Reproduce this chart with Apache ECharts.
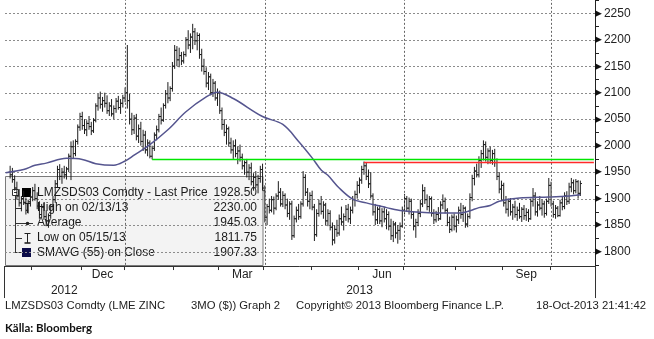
<!DOCTYPE html>
<html>
<head>
<meta charset="utf-8">
<script src="https://cdn.jsdelivr.net/npm/echarts@6/dist/echarts.min.js"></script>
<style>
  html, body { margin: 0; padding: 0; background: #fff; }
  #chart { width: 654px; height: 339px; }
</style>
</head>
<body>
<div id="chart"></div>
<script>
// LME zinc 3-month price, daily OHLC bars, 18-Oct-2012 .. 18-Oct-2013
const firstDay = '2012-10-18';
const holidays = ['2012-12-25', '2012-12-26', '2013-01-01', '2013-03-29', '2013-04-01', '2013-05-06', '2013-05-27', '2013-08-26'];
const monthLabels = { '2012-12': 'Dec', '2013-03': 'Mar', '2013-06': 'Jun', '2013-09': 'Sep' };
const yearLabels = ['2012', '2013'];
const priceTicks = [1800, 1850, 1900, 1950, 2000, 2050, 2100, 2150, 2200, 2250];

const opens = [
  1950,1945,1936,1920,1905,1892,1900,1893,1878,1894,
  1903,1915,1900,1886,1870,1884,1866,1858,1868,1885,
  1898,1928,1955,1942,1950,1945,1956,1980,1998,1985,
  2008,2035,2055,2038,2030,2042,2036,2028,2048,2075,
  2090,2078,2085,2080,2066,2075,2060,2070,2084,2072,
  2080,2090,2100,2085,2050,2030,2052,2018,2032,2008,
  2020,1992,2005,1980,1995,2020,2030,2055,2048,2076,
  2098,2090,2108,2150,2180,2162,2170,2160,2172,2200,
  2190,2205,2215,2198,2208,2172,2150,2140,2118,2130,
  2100,2118,2090,2100,2066,2040,2025,2032,2005,1992,
  2000,1985,1990,1978,1962,1968,1950,1958,1932,1940,
  1926,1938,1955,1915,1865,1885,1878,1898,1882,1905,
  1912,1890,1906,1888,1872,1890,1830,1862,1878,1866,
  1890,1940,1912,1895,1906,1884,1832,1872,1890,1876,
  1888,1858,1872,1846,1822,1842,1835,1862,1856,1866,
  1880,1862,1878,1898,1908,1925,1935,1955,1962,1942,
  1928,1905,1875,1860,1880,1858,1875,1862,1870,1848,
  1830,1852,1835,1840,1848,1878,1900,1882,1895,1870,
  1848,1855,1872,1890,1915,1898,1885,1900,1872,1860,
  1870,1862,1888,1895,1878,1855,1842,1865,1848,1860,
  1878,1870,1882,1852,1866,1902,1938,1952,1945,1972,
  1985,2002,1978,1990,1972,1985,1968,1942,1918,1925,
  1892,1880,1895,1875,1884,1870,1878,1866,1880,1868,
  1874,1862,1895,1905,1875,1888,1882,1890,1872,1895,
  1925,1890,1870,1882,1868,1892,1885,1905,1895,1922,
  1930,1915,1932,1910
];
const highs = [
  1962,1958,1944,1932,1918,1905,1915,1902,1898,1910,
  1922,1928,1912,1895,1890,1892,1878,1872,1890,1905,
  1935,1962,1965,1958,1962,1960,1985,2008,2010,2012,
  2040,2062,2064,2050,2048,2056,2045,2052,2080,2098,
  2102,2092,2100,2095,2082,2088,2076,2090,2094,2088,
  2096,2110,2190,2098,2062,2058,2060,2040,2045,2030,
  2028,2012,2010,2000,2025,2038,2060,2072,2080,2105,
  2120,2112,2158,2190,2188,2185,2177,2178,2205,2218,
  2212,2230,2222,2214,2212,2183,2164,2148,2139,2136,
  2126,2122,2108,2104,2072,2050,2040,2036,2015,2010,
  2012,1998,2002,1985,1972,1975,1965,1968,1948,1952,
  1945,1962,1966,1925,1890,1900,1905,1904,1910,1933,
  1920,1914,1910,1900,1895,1896,1868,1885,1890,1895,
  1952,1946,1920,1912,1915,1890,1880,1898,1905,1895,
  1892,1880,1878,1855,1850,1860,1870,1885,1872,1888,
  1890,1885,1905,1915,1933,1940,1962,1970,1968,1955,
  1950,1910,1890,1885,1888,1882,1884,1880,1876,1862,
  1858,1856,1850,1855,1885,1909,1905,1902,1900,1876,
  1862,1880,1898,1927,1922,1908,1905,1904,1880,1877,
  1884,1895,1908,1902,1882,1866,1870,1872,1868,1885,
  1892,1888,1885,1872,1910,1945,1960,1966,1980,1992,
  2010,2008,1995,1998,1992,1994,1976,1950,1934,1930,
  1905,1900,1901,1890,1896,1885,1892,1884,1888,1882,
  1880,1900,1920,1912,1895,1905,1898,1896,1900,1939,
  1932,1896,1888,1886,1898,1905,1912,1914,1930,1939,
  1936,1937,1935,1934
];
const lows = [
  1938,1930,1915,1898,1885,1876,1888,1870,1872,1885,
  1895,1896,1880,1862,1864,1860,1848,1845,1862,1878,
  1892,1920,1935,1928,1938,1936,1950,1935,1975,1980,
  2002,2028,2030,2022,2018,2030,2020,2024,2044,2066,
  2070,2064,2072,2060,2056,2055,2050,2062,2068,2060,
  2072,2082,2070,2040,2020,2022,2010,2005,2000,1990,
  1985,1980,1976,1974,1990,2010,2025,2040,2045,2070,
  2080,2084,2102,2145,2150,2148,2152,2155,2168,2182,
  2175,2182,2190,2180,2164,2140,2134,2110,2105,2095,
  2092,2085,2075,2060,2030,2018,2002,1998,1985,1975,
  1978,1965,1970,1955,1945,1940,1935,1925,1915,1920,
  1910,1930,1915,1855,1850,1872,1874,1870,1878,1898,
  1885,1884,1880,1865,1860,1822,1826,1855,1860,1862,
  1885,1905,1885,1880,1878,1820,1828,1866,1870,1862,
  1850,1848,1840,1811.75,1815,1828,1830,1850,1840,1858,
  1855,1852,1872,1885,1900,1910,1928,1945,1935,1920,
  1900,1868,1850,1852,1852,1846,1855,1842,1840,1822,
  1818,1825,1815,1822,1845,1870,1875,1870,1862,1840,
  1826,1848,1865,1884,1890,1878,1875,1866,1852,1855,
  1858,1860,1880,1872,1848,1835,1838,1840,1836,1852,
  1862,1856,1845,1846,1862,1895,1925,1940,1940,1958,
  1972,1970,1965,1966,1964,1960,1935,1910,1898,1885,
  1872,1866,1868,1860,1864,1858,1862,1856,1860,1858,
  1856,1860,1885,1868,1866,1878,1868,1864,1868,1890,
  1885,1864,1862,1865,1866,1878,1880,1888,1890,1912,
  1908,1910,1900,1905
];
const closes = [
  1945,1936,1920,1905,1892,1900,1893,1878,1894,1903,
  1915,1900,1886,1870,1884,1866,1858,1868,1885,1898,
  1928,1955,1942,1950,1945,1956,1980,1998,1985,2008,
  2035,2055,2038,2030,2042,2036,2028,2048,2075,2090,
  2078,2085,2080,2066,2075,2060,2070,2084,2072,2080,
  2090,2100,2085,2050,2030,2052,2018,2032,2008,2020,
  1992,2005,1980,1995,2020,2030,2055,2048,2076,2098,
  2090,2108,2150,2180,2162,2170,2160,2172,2200,2190,
  2205,2215,2198,2208,2172,2150,2140,2118,2130,2100,
  2118,2090,2100,2066,2040,2025,2032,2005,1992,2000,
  1985,1990,1978,1962,1968,1950,1958,1932,1940,1926,
  1938,1955,1920,1865,1885,1878,1898,1882,1905,1912,
  1890,1906,1888,1872,1890,1830,1862,1878,1866,1890,
  1940,1912,1895,1906,1884,1832,1872,1890,1876,1888,
  1858,1872,1846,1822,1842,1835,1862,1856,1866,1880,
  1862,1878,1898,1908,1925,1935,1955,1962,1942,1928,
  1905,1875,1860,1880,1858,1875,1862,1870,1848,1830,
  1852,1835,1840,1848,1878,1900,1882,1895,1870,1848,
  1855,1872,1890,1915,1898,1885,1900,1872,1860,1870,
  1862,1888,1895,1878,1855,1842,1865,1848,1860,1878,
  1870,1882,1852,1866,1902,1938,1952,1945,1972,1985,
  2002,1978,1990,1972,1985,1968,1942,1918,1925,1892,
  1880,1895,1875,1884,1870,1878,1866,1880,1868,1874,
  1862,1895,1905,1875,1888,1882,1890,1872,1895,1925,
  1890,1870,1882,1868,1892,1885,1905,1895,1922,1930,
  1915,1932,1910,1928.5
];

// 55-day simple moving average of the close (trading-day offset from firstDay, value)
const smaDay   = [-2, 6, 11, 16, 25, 32, 38, 46, 51, 55, 62, 70, 78, 87, 92, 99, 112, 121, 128, 134, 138, 141, 146, 152, 158, 164, 167, 174, 189, 200, 204, 208, 213, 217, 226, 239, 248, 253];
const smaValue = [1949, 1955, 1963, 1967, 1976, 1974, 1966, 1963, 1971, 1982, 2002, 2030, 2064, 2092, 2101, 2089, 2055, 2040, 2008, 1977, 1954, 1944, 1920, 1899, 1892, 1886, 1883, 1877, 1873, 1873, 1877, 1883, 1887, 1895, 1901, 1903, 1905, 1907.33];

// horizontal trend lines drawn to the right edge (start day offset, level)
const trendStartDay = [157, 63];
const trendLevel = [1969.5, 1973.5];

const averagePrice = 1945.03;

// ---------- trading calendar ----------
const cats = [];
for (let t = Date.UTC(2012, 9, 16); t <= Date.UTC(2013, 9, 28); t += 864e5) {
  const d = new Date(t);
  const wd = d.getUTCDay();
  const s = d.toISOString().slice(0, 10);
  if (wd === 0 || wd === 6 || holidays.indexOf(s) >= 0) continue;
  cats.push(s);
}
const off = cats.indexOf(firstDay);
const firstCat = cats[0];
const lastCat = cats[cats.length - 1];

const isMonthStart = k => k > 0 && cats[k].slice(0, 7) !== cats[k - 1].slice(0, 7);
const isQuarterStart = k => isMonthStart(k) && ['01', '04', '07', '10'].indexOf(cats[k].slice(5, 7)) >= 0;
const isYearStart = k => k > 0 && cats[k].slice(0, 4) !== cats[k - 1].slice(0, 4);

const monthAt = {};
const yearAt = {};
(function () {
  const mg = {}, yg = {};
  cats.forEach((s, k) => {
    (mg[s.slice(0, 7)] = mg[s.slice(0, 7)] || []).push(k);
    (yg[s.slice(0, 4)] = yg[s.slice(0, 4)] || []).push(k);
  });
  Object.keys(monthLabels).forEach(key => {
    const g = mg[key];
    monthAt[g[Math.round((g.length - 1) / 2)]] = monthLabels[key];
  });
  yearLabels.forEach(y => {
    const g = yg[y];
    yearAt[g[Math.round((g.length - 1) / 2)]] = y;
  });
})();

const ohlcData = closes.map((c, i) => [cats[off + i], opens[i], highs[i], lows[i], c]);
const smaData = smaDay.map((d, i) => [cats[off + d], smaValue[i]]);

// ---------- legend statistics ----------
let hiIdx = 0, loIdx = 0;
highs.forEach((v, i) => { if (v > highs[hiIdx]) hiIdx = i; });
lows.forEach((v, i) => { if (v < lows[loIdx]) loIdx = i; });
const usDate = s => s.slice(5, 7) + '/' + s.slice(8, 10) + '/' + s.slice(2, 4);
const lastClose = closes[closes.length - 1];
const lastSma = smaValue[smaValue.length - 1];
const legendRows = [
  ['LMZSDS03 Comdty - Last Price', lastClose.toFixed(2)],
  ['High on ' + usDate(cats[off + hiIdx]), highs[hiIdx].toFixed(2)],
  ['Average', averagePrice.toFixed(2)],
  ['Low on ' + usDate(cats[off + loIdx]), lows[loIdx].toFixed(2)],
  ['SMAVG (55) on Close', lastSma.toFixed(2)]
];

// ---------- drawing ----------
const FONT = '"Liberation Sans", Arial, sans-serif';
const GRID_LINE = { color: '#666666', width: 1, type: [2, 2] };

function renderBar(params, api) {
  const k = api.value(0);
  const pH = api.coord([k, api.value(2)]);
  const pL = api.coord([k, api.value(3)]);
  const pO = api.coord([k, api.value(1)]);
  const pC = api.coord([k, api.value(4)]);
  const x = pH[0];
  const st = { stroke: '#1c1c1c', lineWidth: 1 };
  return {
    type: 'group',
    children: [
      { type: 'line', shape: { x1: x, y1: pH[1], x2: x, y2: pL[1] }, style: st },
      { type: 'line', shape: { x1: x - 1.6, y1: pO[1], x2: x, y2: pO[1] }, style: st },
      { type: 'line', shape: { x1: x, y1: pC[1], x2: x + 1.6, y2: pC[1] }, style: st }
    ]
  };
}

// dotted quarter boundaries
const quarterMarks = cats.map((s, k) => k).filter(isQuarterStart).map(k => ({ xAxis: cats[k], lineStyle: GRID_LINE }));

const rowY = [193, 208, 223, 238, 252.5];
const legendGraphics = [
  { type: 'rect', shape: { x: 5.5, y: 176.5, width: 257.5, height: 89 },
    style: { fill: 'rgba(241,241,241,0.84)', stroke: '#7a7a7a', lineWidth: 1 } },
  // tree connector
  { type: 'rect', shape: { x: 12.5, y: 189.5, width: 6, height: 6 }, style: { fill: '#fff', stroke: '#333', lineWidth: 1 } },
  { type: 'line', shape: { x1: 14, y1: 192.5, x2: 17, y2: 192.5 }, style: { stroke: '#333', lineWidth: 1 } },
  { type: 'line', shape: { x1: 15.5, y1: 195.5, x2: 15.5, y2: 253 }, style: { stroke: '#333', lineWidth: 1 } },
  { type: 'line', shape: { x1: 15.5, y1: 208.5, x2: 22, y2: 208.5 }, style: { stroke: '#333', lineWidth: 1 } },
  { type: 'line', shape: { x1: 15.5, y1: 223.5, x2: 22, y2: 223.5 }, style: { stroke: '#333', lineWidth: 1 } },
  { type: 'line', shape: { x1: 15.5, y1: 238.5, x2: 22, y2: 238.5 }, style: { stroke: '#333', lineWidth: 1 } },
  { type: 'line', shape: { x1: 15.5, y1: 252.5, x2: 22, y2: 252.5 }, style: { stroke: '#333', lineWidth: 1 } },
  // series swatches
  { type: 'rect', shape: { x: 22, y: 188, width: 9, height: 9 }, style: { fill: '#000' } },
  { type: 'line', shape: { x1: 27.5, y1: 203, x2: 27.5, y2: 213 }, style: { stroke: '#222', lineWidth: 1 } },
  { type: 'line', shape: { x1: 24.5, y1: 203.5, x2: 30.5, y2: 203.5 }, style: { stroke: '#222', lineWidth: 1 } },
  { type: 'line', shape: { x1: 21, y1: 223.5, x2: 33, y2: 223.5 }, style: { stroke: '#333', lineWidth: 1 } },
  { type: 'circle', shape: { cx: 27.5, cy: 223.5, r: 1.8 }, style: { fill: '#222' } },
  { type: 'line', shape: { x1: 27.5, y1: 233, x2: 27.5, y2: 243 }, style: { stroke: '#222', lineWidth: 1 } },
  { type: 'line', shape: { x1: 24.5, y1: 233.5, x2: 30.5, y2: 233.5 }, style: { stroke: '#222', lineWidth: 1 } },
  { type: 'line', shape: { x1: 24.5, y1: 243, x2: 30.5, y2: 243 }, style: { stroke: '#222', lineWidth: 1.6 } },
  { type: 'rect', shape: { x: 22, y: 248, width: 9, height: 9 }, style: { fill: '#0b0b48' } }
];
legendRows.forEach((r, i) => {
  legendGraphics.push({ type: 'text', style: { text: r[0], x: 37, y: rowY[i], fill: '#1a1a1a', font: '12px ' + FONT, align: 'left', verticalAlign: 'middle' } });
  legendGraphics.push({ type: 'text', style: { text: r[1], x: 257, y: rowY[i], fill: '#1a1a1a', font: '12px ' + FONT, align: 'right', verticalAlign: 'middle' } });
});

const footFont = '11.3px ' + FONT;
const footer = [
  { type: 'text', style: { text: 'LMZSDS03 Comdty (LME ZINC', x: 5, y: 306, fill: '#222', font: footFont, verticalAlign: 'middle' } },
  { type: 'text', style: { text: '3MO ($)) Graph 2', x: 191, y: 306, fill: '#222', font: footFont, verticalAlign: 'middle' } },
  { type: 'text', style: { text: 'Copyright\u00a9 2013 Bloomberg Finance L.P.', x: 296, y: 306, fill: '#222', font: footFont, verticalAlign: 'middle' } },
  { type: 'text', style: { text: '18-Oct-2013 21:41:42', x: 646, y: 306, fill: '#222', font: footFont, align: 'right', verticalAlign: 'middle' } },
  { type: 'text', style: { text: 'K\u00e4lla: Bloomberg', x: 5, y: 328, fill: '#111', font: 'bold 11.5px Lato, sans-serif', verticalAlign: 'middle' } }
];

const tagLabel = (bg) => ({
  show: true,
  position: 'end',
  distance: 1,
  offset: [0, 2.5],
  formatter: p => '{a|\u25C0}{b|' + Number(p.value).toFixed(2) + '}',
  rich: {
    a: { color: bg, fontSize: 9, fontFamily: 'DejaVu Sans', padding: [0, -1, 0, 0] },
    b: { color: '#fff', backgroundColor: bg, fontSize: 12, fontFamily: FONT, padding: [2, 3, 1, 3], borderRadius: 2 }
  }
});

const chart = echarts.init(document.getElementById('chart'), null, { renderer: 'canvas' });
chart.setOption({
  animation: false,
  backgroundColor: '#fff',
  grid: { left: 4.5, top: -1.83, width: 590.5, height: 266.67 },
  xAxis: [
    {
      type: 'category', data: cats, boundaryGap: true, offset: 1.2,
      axisLine: { show: true, lineStyle: { color: '#333', width: 1 } },
      axisTick: { show: true, length: 4, interval: k => isMonthStart(k), lineStyle: { color: '#333' } },
      axisLabel: { show: true, interval: k => monthAt[k] !== undefined, formatter: (v, k) => monthAt[k] || '',
                   margin: 3, color: '#222', fontFamily: FONT, fontSize: 12 },
      splitLine: { show: false }
    },
    {
      type: 'category', data: cats, boundaryGap: true, offset: 1.2, position: 'bottom',
      axisLine: { show: false },
      axisTick: { show: true, length: 32, interval: k => isYearStart(k), lineStyle: { color: '#333' } },
      axisLabel: { show: true, interval: k => yearAt[k] !== undefined, formatter: (v, k) => yearAt[k] || '',
                   margin: 19, color: '#222', fontFamily: FONT, fontSize: 12 },
      splitLine: { show: false }
    }
  ],
  yAxis: {
    type: 'value', position: 'right', min: 1775, max: 2275, interval: 25,
    axisLine: { show: true, lineStyle: { color: '#222', width: 1 } },
    axisTick: { show: true, length: 4, lineStyle: { color: '#222' } },
    splitLine: { show: false },
    axisLabel: {
      margin: 0,
      formatter: v => priceTicks.indexOf(v) >= 0 ? '{t|\u25B6}{n|' + v + '}' : '',
      rich: {
        t: { color: '#111', fontSize: 9, fontFamily: 'DejaVu Sans', padding: [0, 2, 0, 0] },
        n: { color: '#222', fontSize: 12, fontFamily: FONT }
      }
    }
  },
  series: [
    {
      type: 'line', name: 'quarters', data: smaData, showSymbol: false, silent: true, z: 1,
      lineStyle: { opacity: 0 },
      markLine: { silent: true, symbol: ['none', 'none'], label: { show: false }, animation: false, data: quarterMarks }
    },
    {
      type: 'custom', name: 'LMZSDS03 Comdty', xAxisIndex: 0, yAxisIndex: 0,
      data: ohlcData, encode: { x: 0, y: [1, 2, 3, 4] },
      renderItem: renderBar, z: 3, silent: true
    },
    {
      type: 'line', name: 'SMAVG (55)', data: smaData, showSymbol: false, smooth: 0.35,
      lineStyle: { color: '#55558f', width: 1.5 }, z: 4, silent: true,
      markLine: {
        silent: true, symbol: ['none', 'none'], animation: false,
        label: { show: false },
        data: [
          [{ coord: [cats[off + trendStartDay[0]], trendLevel[0]], lineStyle: { color: '#ff2a2a', width: 1.3, type: 'solid' } },
           { coord: [lastCat, trendLevel[0]] }],
          [{ coord: [cats[off + trendStartDay[1]], trendLevel[1]], lineStyle: { color: '#00e600', width: 1.3, type: 'solid' } },
           { coord: [lastCat, trendLevel[1]] }],
          { yAxis: lastSma, lineStyle: { opacity: 0 }, label: tagLabel('#0b0b48') },
          { yAxis: lastClose, lineStyle: { opacity: 0 }, label: tagLabel('#000000') }
        ]
      }
    }
  ],
  graphic: [
    { type: 'group', z: 100, children: legendGraphics },
    { type: 'group', z: 100, children: footer }
  ]
});

// dotted price-level grid, placed through the axis scales once the layout is known
(function () {
  const c0 = chart.convertToPixel({ xAxisIndex: 0 }, cats[0]);
  const c1 = chart.convertToPixel({ xAxisIndex: 0 }, cats[1]);
  const cN = chart.convertToPixel({ xAxisIndex: 0 }, lastCat);
  const half = (c1 - c0) / 2;
  const xL = c0 - half, xR = cN + half;
  const dots = [];
  priceTicks.forEach(v => {
    const y = Math.round(chart.convertToPixel({ yAxisIndex: 0 }, v));
    for (let x = Math.ceil(xL); x < xR - 1; x += 4) {
      dots.push({ type: 'rect', shape: { x: x, y: y, width: 2, height: 1 }, style: { fill: '#8c8c8c' } });
    }
  });
  chart.setOption({
    graphic: [
      { type: 'group', z: 100, children: legendGraphics },
      { type: 'group', z: 100, children: footer },
      { type: 'group', z: 1, silent: true, children: dots }
    ]
  });
})();
</script>
</body>
</html>
